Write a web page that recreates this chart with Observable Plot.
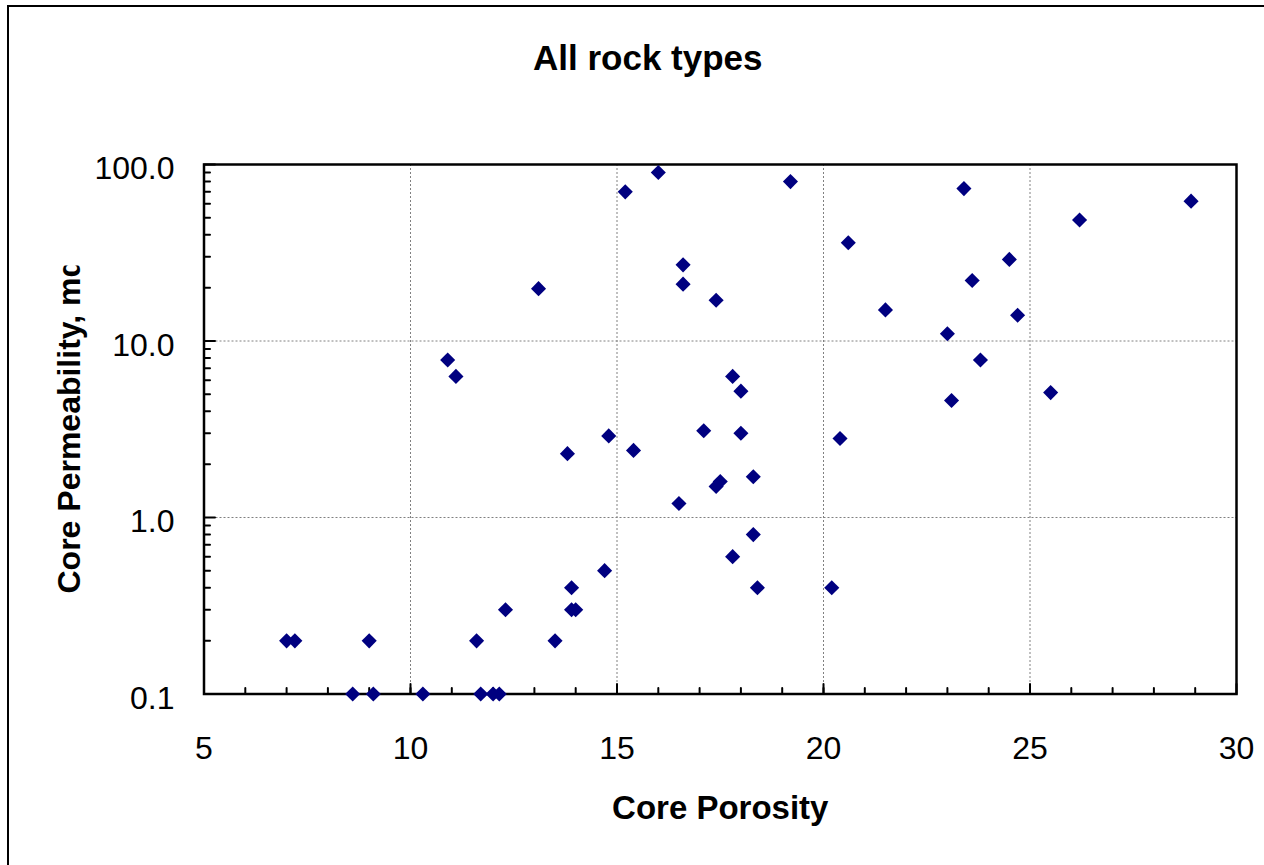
<!DOCTYPE html>
<html><head><meta charset="utf-8">
<script src="https://cdn.jsdelivr.net/npm/d3@7"></script>
<script src="https://cdn.jsdelivr.net/npm/@observablehq/plot@0.6"></script>
<style>
html,body{margin:0;padding:0;background:#fff;overflow:hidden;width:1264px;height:865px;}
#wrap{position:relative;width:1264px;height:865px;overflow:hidden;}
#border{position:absolute;left:7px;top:5px;width:1400px;height:1000px;border-left:2px solid #000;border-top:2px solid #000;}
#chart{position:absolute;left:0;top:0;}
</style></head><body><div id="wrap"><div id="border"></div><div id="chart"></div></div>
<script>
const title = "All rock types";
const xLabel = "Core Porosity";
const yLabel = "Core Permeability, md";
const porosity = [7.0, 7.2, 9.0, 8.6, 9.1, 10.3, 11.6, 12.3, 11.7, 12.0, 12.15, 13.5, 13.9, 14.0, 13.9, 14.7, 13.8, 14.8, 15.4, 10.9, 11.1, 13.1, 15.2, 16.0, 19.2, 16.6, 16.6, 17.4, 17.8, 18.0, 17.1, 18.0, 17.5, 17.4, 18.3, 16.5, 18.3, 17.8, 18.4, 20.2, 20.4, 20.6, 21.5, 23.4, 28.9, 26.2, 24.5, 23.6, 24.7, 23.0, 23.8, 23.1, 25.5];
const permeability = [0.2, 0.2, 0.2, 0.1, 0.1, 0.1, 0.2, 0.3, 0.1, 0.1, 0.1, 0.2, 0.3, 0.3, 0.4, 0.5, 2.3, 2.9, 2.4, 7.8, 6.3, 19.8, 70, 90, 80, 27, 21, 17, 6.3, 5.2, 3.1, 3.0, 1.6, 1.5, 1.7, 1.2, 0.8, 0.6, 0.4, 0.4, 2.8, 36, 15, 73, 62, 48.5, 29, 22, 14, 11, 7.8, 4.6, 5.1];
const xTicks = [5, 10, 15, 20, 25, 30];
const yTicks = [0.1, 1, 10, 100];
const xGrid = [10, 15, 20, 25];
const yGrid = [1, 10];

const data = porosity.map((x, i) => ({x, y: permeability[i]}));
const xMinor = d3.range(6, 30);
const yMinor = [0.1, 1, 10].flatMap(d => d3.range(2, 10).map(k => k * d));
const font = "'Liberation Sans', Arial, sans-serif";
const tickShape = {draw(context, l) { context.moveTo(0, 0); context.lineTo(0, -l); }};
const tickStyle = {anchor: "start", shape: tickShape, stroke: "#000", strokeWidth: 2};

const plot = Plot.plot({
  width: 1264, height: 865,
  marginLeft: 203.5, marginRight: 28, marginTop: 164, marginBottom: 171.5,
  style: {fontFamily: font, background: "transparent", color: "#000"},
  x: {domain: [5, 30]},
  y: {type: "log", domain: [0.1, 100]},
  marks: [
    Plot.ruleX(xGrid, {stroke: "#808080", strokeDasharray: "2,2", strokeWidth: 1}),
    Plot.ruleY(yGrid, {stroke: "#808080", strokeDasharray: "2,2", strokeWidth: 1}),
    Plot.vector(xMinor, {x: d => d, frameAnchor: "bottom", length: 6, rotate: 0, ...tickStyle}),
    Plot.vector(xTicks, {x: d => d, frameAnchor: "bottom", length: 10, rotate: 0, ...tickStyle}),
    Plot.vector(yMinor, {y: d => d, frameAnchor: "left", length: 6, rotate: 90, ...tickStyle}),
    Plot.vector(yTicks, {y: d => d, frameAnchor: "left", length: 11, rotate: 90, ...tickStyle}),
    Plot.frame({stroke: "#000", strokeWidth: 2.5}),
    Plot.axisX({ticks: xTicks, tickSize: 0, tickPadding: 42, fontSize: 32, label: null, tickFormat: d => String(d)}),
    Plot.axisY({ticks: yTicks, tickSize: 0, tickPadding: 29.5, fontSize: 32, label: null, tickFormat: d => d.toFixed(1), dy: 4.5}),
    Plot.dot(data, {x: "x", y: "y", symbol: "diamond2", r: 6.8, fill: "#000080"}),
    Plot.text([title], {frameAnchor: "top", dx: -72.5, dy: -94.7, lineAnchor: "bottom", fontSize: 35, fontWeight: "bold"}),
    Plot.text([xLabel], {frameAnchor: "bottom", dy: 125.4, lineAnchor: "bottom", fontSize: 33, fontWeight: "bold"}),
    Plot.text([yLabel], {frameAnchor: "left", rotate: -90, dx: -124.5, dy: -3.5, lineAnchor: "bottom", textAnchor: "middle", fontSize: 32, fontWeight: "bold"})
  ]
});

const svg = d3.select(plot);
svg.append("defs").append("clipPath").attr("id", "ylabclip")
  .append("rect").attr("x", -2000).attr("y", 265 + 3.5).attr("width", 4000).attr("height", 2000);
svg.selectAll("text").filter(function() { return this.textContent === yLabel; })
  .each(function() { d3.select(this.parentNode).attr("clip-path", "url(#ylabclip)"); });
document.getElementById("chart").appendChild(plot);
</script>
</body></html>
